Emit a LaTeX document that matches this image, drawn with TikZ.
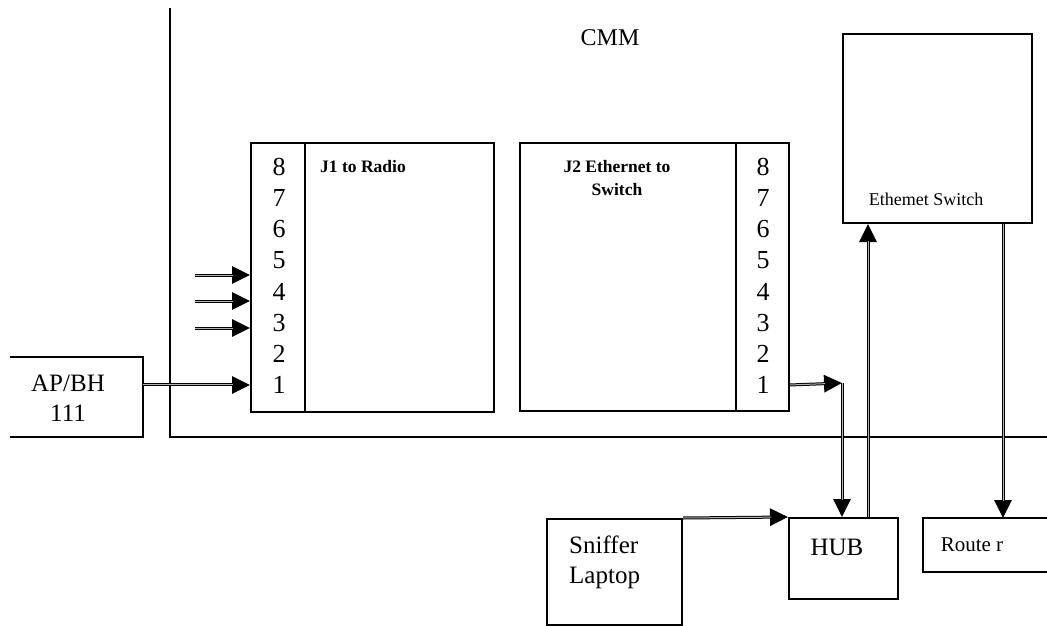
\documentclass[tikz,border=0pt]{standalone}
\usepackage{fontspec}
\setmainfont{Liberation Serif}
\usetikzlibrary{arrows.meta,positioning}
\begin{document}
\begin{tikzpicture}[x=1pt,y=-1pt,
  box/.style={draw=black, line width=2pt, rectangle, inner sep=0pt, anchor=north west},
  openbox/.style={rectangle, inner sep=0pt, anchor=north west},
  wire/.style={line width=2pt},
  conn/.style={draw=black, line width=3pt,
    -{Triangle[length=18pt 0,width=17pt 0]},
    postaction={draw=gray!60, line width=1pt, -, shorten >=17pt}},
  pin/.style={inner sep=0pt, font=\fontsize{26}{30}\selectfont},
  lbl/.style={inner sep=0pt, align=center, font=\fontsize{25}{30}\selectfont},
  blbl/.style={inner sep=0pt, align=center, font=\fontsize{17.5}{23}\selectfont\bfseries},
  slbl/.style={inner sep=0pt, align=center, font=\fontsize{18}{22}\selectfont}]
\useasboundingbox[fill=white] (0,0) rectangle (1047,626);

% CMM boundary
\draw[wire] (170,8) -- (170,437) -- (1047,437);
\node[lbl, font=\fontsize{24}{28}\selectfont] (cmm) at (610,38) {CMM};

% AP/BH (open box)
\node[openbox, minimum width=133pt, minimum height=80pt] (apbh) at (10,357) {};
\draw[wire] (apbh.north west) -- (apbh.north east) -- (apbh.south east) -- (apbh.south west);
\node[lbl] (apbhtext) at (68,398) {AP/BH\\111};

% J1 connector
\node[box, minimum width=54pt, minimum height=269pt] (j1pins) at (250,142) {};
\node[box, minimum width=189pt, minimum height=269pt] (j1) at (304,142) {};
\node[blbl, anchor=west] (j1text) at (320,167) {J1 to Radio};
\foreach \k in {1,...,8} {
  \node[pin] (a\k) at (279,{167+31.14*(8-\k)}) {\k};
}

% J2 connector
\node[box, minimum width=216pt, minimum height=268pt] (j2) at (519,142) {};
\node[box, minimum width=53pt, minimum height=268pt] (j2pins) at (735,142) {};
\node[blbl] (j2text) at (617,178) {J2 Ethernet to\\Switch};
\foreach \k in {1,...,8} {
  \node[pin] (b\k) at (763,{167+31.14*(8-\k)}) {\k};
}

% Ethernet switch
\node[box, minimum width=189pt, minimum height=189pt] (sw) at (842,33) {};
\node[slbl] (swtext) at (926,199) {Ethemet Switch};

% HUB
\node[box, minimum width=109pt, minimum height=81pt] (hub) at (788,517) {};
\node[lbl] (hubtext) at (837,547) {HUB};

% Sniffer laptop
\node[box, minimum width=135pt, minimum height=106pt] (sniff) at (546,518) {};
\node[lbl, align=left, anchor=west] (snifftext) at (569,562) {Sniffer\\Laptop};

% Router (open on the right)
\node[openbox, minimum width=130pt, minimum height=54pt] (rt) at (923,518) {};
\draw[wire] (rt.north east) -- (rt.north west) -- (rt.south west) -- (rt.south east);
\node[lbl, font=\fontsize{21}{25}\selectfont] (rttext) at (972,545) {Route r};

% connectors
\coordinate (f5) at (195,275);
\coordinate (f4) at (195,301);
\coordinate (f3) at (195,328);
\draw[conn] (apbh.east |- a1) -- (j1pins.west |- a1);
\draw[conn] (f5) -- (j1pins.west |- f5);
\draw[conn] (f4) -- (j1pins.west |- f4);
\draw[conn] (f3) -- (j1pins.west |- f3);

\coordinate (corner) at (842,383);
\draw[conn] (j2pins.east |- b1) -- (corner);
\draw[conn] (corner) -- (corner |- hub.north);
\draw[conn] (hub.north -| 868,0) -- (sw.south -| 868,0);
\draw[conn] (sw.south -| 1003,0) -- (rt.north -| 1003,0);
\draw[conn] (sniff.north east) -- (hub.north west);
\end{tikzpicture}
\end{document}
